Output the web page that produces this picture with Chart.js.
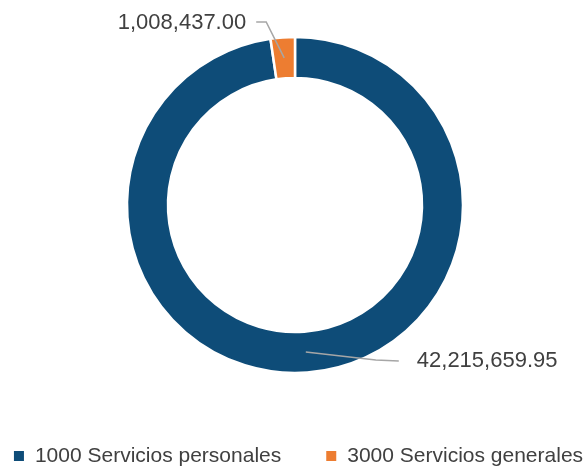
<!DOCTYPE html>
<html>
<head>
<meta charset="utf-8">
<script src="https://cdn.jsdelivr.net/npm/chart.js@4"></script>
<style>
  html, body { margin: 0; padding: 0; background: #fff; }
  #wrap { width: 587px; height: 467px; }
</style>
</head>
<body>
<div id="wrap"><canvas id="donutChart"></canvas></div>
<script>
// data
const categories = ['1000 Servicios personales', '3000 Servicios generales'];
const amounts = [42215659.95, 1008437.00];
const sliceColors = ['#0E4C78', '#ED7D31'];

const textColor = '#404040';
const leaderColor = '#A6A6A6';

function fmt(v) {
    return v.toLocaleString('en-US', { minimumFractionDigits: 2, maximumFractionDigits: 2 });
}

// leader line offsets from the mid-ring anchor of each slice (style only)
const leaderStyle = [
    { pts: [[70, 8], [93, 9]], textAt: [111, 9], align: 'left' },
    { pts: [[-18, -36], [-28, -36]], textAt: [-38, -35], align: 'right' }
];

const calloutPlugin = {
    id: 'callouts',
    afterDatasetsDraw(chart) {
        const ctx = chart.ctx;
        const meta = chart.getDatasetMeta(0);
        ctx.save();
        meta.data.forEach((arc, i) => {
            const p = arc.getProps(['x', 'y', 'startAngle', 'endAngle', 'innerRadius', 'outerRadius'], true);
            const mid = (p.startAngle + p.endAngle) / 2;
            const r = (p.innerRadius + p.outerRadius) / 2;
            const ax = p.x + Math.cos(mid) * r;
            const ay = p.y + Math.sin(mid) * r;
            const st = leaderStyle[i];
            ctx.strokeStyle = leaderColor;
            ctx.lineWidth = 1.5;
            ctx.beginPath();
            ctx.moveTo(ax, ay);
            st.pts.forEach(pt => ctx.lineTo(ax + pt[0], ay + pt[1]));
            ctx.stroke();
            ctx.fillStyle = textColor;
            ctx.font = '22px "Liberation Sans", Arial, sans-serif';
            ctx.textAlign = st.align;
            ctx.textBaseline = 'middle';
            ctx.fillText(fmt(amounts[i]), ax + st.textAt[0], ay + st.textAt[1]);
        });
        ctx.restore();
    }
};

const legendPlugin = {
    id: 'bottomLegend',
    afterDraw(chart) {
        const ctx = chart.ctx;
        ctx.save();
        ctx.font = '21px "Liberation Sans", Arial, sans-serif';
        const box = 10, gap = 11, spacing = 45;
        const widths = categories.map(c => box + gap + ctx.measureText(c).width);
        const total = widths.reduce((a, b) => a + b, 0) + spacing * (categories.length - 1);
        let x = (chart.width - total) / 2 + 5;
        const y = 456;
        categories.forEach((c, i) => {
            ctx.fillStyle = sliceColors[i];
            ctx.fillRect(x, y - box / 2, box, box);
            ctx.fillStyle = textColor;
            ctx.textAlign = 'left';
            ctx.textBaseline = 'middle';
            ctx.fillText(c, x + box + gap, y);
            x += widths[i] + spacing;
        });
        ctx.restore();
    }
};

new Chart(document.getElementById('donutChart'), {
    type: 'doughnut',
    data: {
        labels: categories,
        datasets: [{
            data: amounts,
            backgroundColor: sliceColors,
            borderColor: '#FFFFFF',
            borderWidth: 2.5
        }]
    },
    options: {
        responsive: true,
        maintainAspectRatio: false,
        animation: false,
        radius: 168,
        cutout: '75.6%',
        layout: { padding: { top: 20, bottom: 77, left: 3, right: 0 } },
        plugins: {
            legend: { display: false },
            tooltip: { enabled: false }
        }
    },
    plugins: [calloutPlugin, legendPlugin]
});
</script>
</body>
</html>
